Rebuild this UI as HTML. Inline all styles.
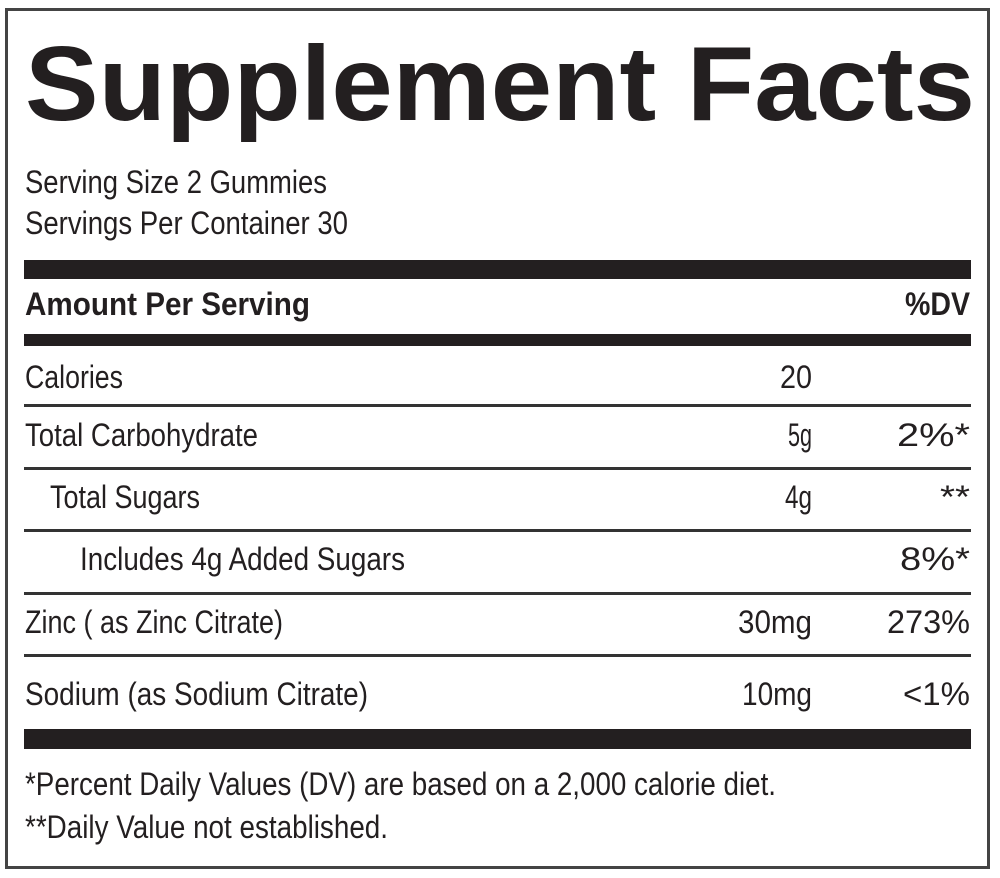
<!DOCTYPE html><html><head><style>body{margin:0;background:#fff}svg{display:block}</style></head><body>
<svg width="1000" height="878" xmlns="http://www.w3.org/2000/svg" font-family="Liberation Sans, sans-serif" fill="#231f20">
<rect x="0" y="0" width="1000" height="878" fill="#fff"/>
<rect x="6.5" y="9.5" width="982" height="858" fill="none" stroke="#444" stroke-width="3"/>
<text x="25" y="120" font-size="106" font-weight="bold" textLength="950" lengthAdjust="spacingAndGlyphs">Supplement Facts</text>
<g font-size="32">
<text x="25" y="193" textLength="302" lengthAdjust="spacingAndGlyphs">Serving Size 2 Gummies</text>
<text x="25" y="234" textLength="323" lengthAdjust="spacingAndGlyphs">Servings Per Container 30</text>
</g>
<rect x="24" y="260" width="947" height="19"/>
<g font-size="32" font-weight="bold">
<text x="25" y="315" textLength="285" lengthAdjust="spacingAndGlyphs">Amount Per Serving</text>
<text x="905" y="315" textLength="65" lengthAdjust="spacingAndGlyphs">%DV</text>
</g>
<rect x="24" y="334" width="947" height="12"/>
<g fill="#333">
<rect x="24" y="404" width="947" height="3"/>
<rect x="24" y="467" width="947" height="3"/>
<rect x="24" y="529" width="947" height="3"/>
<rect x="24" y="592" width="947" height="3"/>
<rect x="24" y="654" width="947" height="3"/>
</g>
<g font-size="32">
<text x="25" y="388" textLength="98" lengthAdjust="spacingAndGlyphs">Calories</text>
<text x="780" y="388" textLength="32" lengthAdjust="spacingAndGlyphs">20</text>
<text x="25" y="446" textLength="233" lengthAdjust="spacingAndGlyphs">Total Carbohydrate</text>
<text x="788" y="446" textLength="24" lengthAdjust="spacingAndGlyphs">5g</text>
<text x="897" y="446" textLength="73" lengthAdjust="spacingAndGlyphs">2%*</text>
<text x="50" y="508" textLength="150" lengthAdjust="spacingAndGlyphs">Total Sugars</text>
<text x="785" y="508" textLength="27" lengthAdjust="spacingAndGlyphs">4g</text>
<text x="940" y="508" textLength="30" lengthAdjust="spacingAndGlyphs">**</text>
<text x="80" y="570" textLength="325" lengthAdjust="spacingAndGlyphs">Includes 4g Added Sugars</text>
<text x="900" y="570" textLength="70" lengthAdjust="spacingAndGlyphs">8%*</text>
<text x="25" y="633" textLength="258" lengthAdjust="spacingAndGlyphs">Zinc ( as Zinc Citrate)</text>
<text x="738" y="633" textLength="74" lengthAdjust="spacingAndGlyphs">30mg</text>
<text x="887" y="633" textLength="83" lengthAdjust="spacingAndGlyphs">273%</text>
<text x="25" y="705" textLength="343" lengthAdjust="spacingAndGlyphs">Sodium (as Sodium Citrate)</text>
<text x="742" y="705" textLength="70" lengthAdjust="spacingAndGlyphs">10mg</text>
<text x="903" y="705" textLength="67" lengthAdjust="spacingAndGlyphs">&lt;1%</text>
</g>
<rect x="24" y="729" width="947" height="20"/>
<g font-size="32">
<text x="25" y="795" textLength="751" lengthAdjust="spacingAndGlyphs">*Percent Daily Values (DV) are based on a 2,000 calorie diet.</text>
<text x="25" y="838" textLength="363" lengthAdjust="spacingAndGlyphs">**Daily Value not established.</text>
</g>
</svg>
</body></html>
